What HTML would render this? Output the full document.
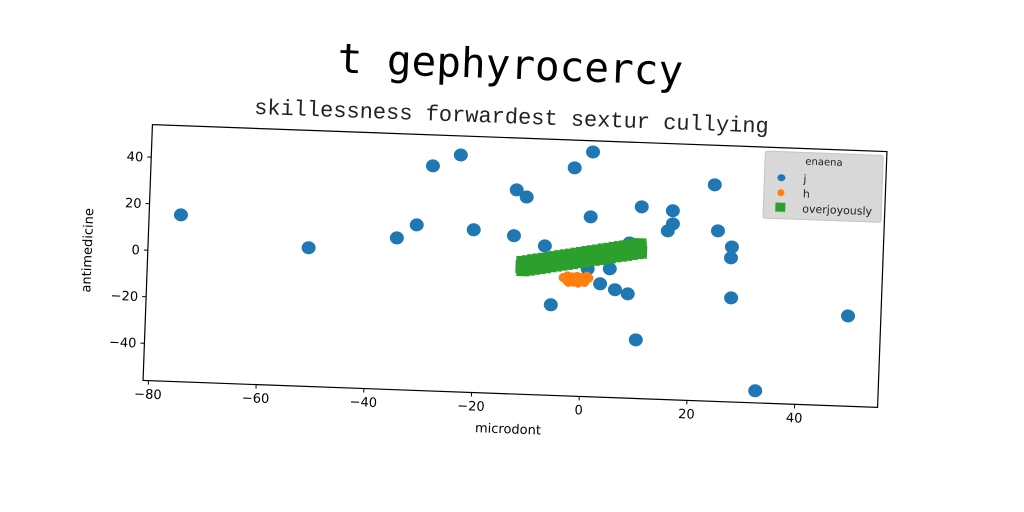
<!DOCTYPE html>
<html><head><meta charset="utf-8"><style>
html,body{margin:0;padding:0;background:#fff;}
svg{display:block;}
</style></head><body>
<svg id="chart" width="1024" height="512" viewBox="0 0 1024 512" xmlns="http://www.w3.org/2000/svg">
<g id="rot" transform="rotate(2.1 515 266)">
<text x="503" y="65" text-anchor="middle" dominant-baseline="central" font-family="DejaVu Sans Mono, monospace" font-size="41" fill="#000">t gephyrocercy</text>
<text x="506" y="118" text-anchor="middle" dominant-baseline="central" font-family="Liberation Mono, monospace" font-size="22" fill="#222">skillessness forwardest sextur cullying</text>
<g id="plot"></g>
<rect x="147.5" y="138" width="735" height="256" fill="none" stroke="#000" stroke-width="1.2"/>
<g id="xt"></g>
<g id="yt"></g>
<text x="514" y="430" text-anchor="middle" dominant-baseline="central" font-family="DejaVu Sans, sans-serif" font-size="13">microdont</text>
<text x="88" y="266" text-anchor="middle" dominant-baseline="central" font-family="DejaVu Sans, sans-serif" font-size="13" transform="rotate(-90 88 266)">antimedicine</text>
<g>
<rect x="761" y="142" width="118" height="67" fill="#d8d8d8" stroke="#c4c4c4" rx="2"/>
<text x="820" y="154" text-anchor="middle" font-family="DejaVu Sans, sans-serif" font-size="10" fill="#222">enaena</text>
<ellipse cx="778" cy="168" rx="4" ry="3.5" fill="#1f77b4"/>
<text x="800" y="172" font-family="DejaVu Sans, sans-serif" font-size="11" fill="#222">j</text>
<circle cx="778" cy="183" r="3.5" fill="#ff7f0e"/>
<text x="800" y="187" font-family="DejaVu Sans, sans-serif" font-size="11" fill="#222">h</text>
<rect x="773" y="193" width="10" height="9" fill="#2ca02c"/>
<text x="800" y="202" font-family="DejaVu Sans, sans-serif" font-size="11" fill="#222">overjoyously</text>
</g>
</g>
</svg>
<script>
const jX=[-75.1,-51.2,-34.9,-31.3,-28.7,-23.6,-20.7,-13.2,-13.0,-11.1,-7.4,-5.9,-2.4,0.9,0.9,3.1,4.8,5.9,8.3,8.3,10.1,10.3,15.3,16.2,16.1,23.7,24.6,27.3,27.2,27.5,32.6,49.3,0.7];
const jY=[15.7,3.6,9.2,15.1,40.7,45.8,13.9,12,31.7,28.8,8.1,-17.1,42.1,49.2,21.3,-7.3,-0.7,-9.6,-11.2,10.7,-30.8,26.4,16.5,19.6,25.2,37,17.3,10.6,5.9,-11.3,-50.8,-17.2,-1.1];
const hX=[-3.8,-3.2,-2.6,-2.0,-1.4,-0.8,-0.2,0.4,1.0,-3.0,-2.2,-1.2,-0.4,0.6,-1.8,-2.8,-1.0,0.2];
const hY=[-5.2,-6.3,-5.8,-6.8,-6.0,-6.5,-5.6,-6.2,-5.0,-4.4,-4.8,-4.5,-4.9,-4.2,-7.0,-7.2,-7.4,-7.0];
const gX=[-11.5,-11,-10.5,-10,-9.5,-9,-8.5,-8,-7.5,-7,-6.5,-6,-5.5,-5,-4.5,-4,-3.5,-3,-2.5,-2,-1.5,-1,-0.5,0,0.5,1,1.5,2,2.5,3,3.5,4,4.5,5,5.5,6,6.5,7,7.5,8,8.5,9,9.5,10,10.3,
-11.3,-10.3,-9.3,-8.3,-7.3,-6.3,-5.3,-4.3,-3.3,-2.3,-1.3,-0.3,0.7,1.7,2.7,3.7,4.7,5.7,6.7,7.7,8.7,9.7,10.4,
-11.4,-10.4,-9.4,-8.4,-7.4,-6.4,-5.4,-4.4,-3.4,-2.4,-1.4,-0.4,0.6,1.6,2.6,3.6,4.6,5.6,6.6,7.6,8.6,9.6,10.2];
const gY=[-1.2,-1.0,-0.7,-0.5,-0.3,0.0,0.2,0.4,0.6,0.9,1.1,1.3,1.5,1.8,2.0,2.2,2.4,2.7,2.9,3.1,3.3,3.6,3.8,4.0,4.2,4.5,4.7,4.9,5.1,5.4,5.6,5.8,6.0,6.3,6.5,6.7,6.9,7.2,7.4,7.6,7.8,8.1,8.3,8.5,8.6,
-2.5,-2.1,-1.6,-1.2,-0.8,-0.3,0.1,0.6,1.0,1.4,1.9,2.3,2.8,3.2,3.6,4.1,4.5,5.0,5.4,5.8,6.3,6.7,7.0,
0.6,1.0,1.5,1.9,2.3,2.8,3.2,3.7,4.1,4.5,5.0,5.4,5.9,6.3,6.7,7.2,7.6,8.1,8.5,8.9,9.4,9.8,10.1];
const xTicks=[-80,-60,-40,-20,0,20,40];
const yTicks=[-40,-20,0,20,40];
const NS='http://www.w3.org/2000/svg';
const X0=147.5,Y0=138,XMIN=-81,XMAX=55.4,YMIN=-56,YMAX=54,W=735,H=256;
function sx(v){return X0+(v-XMIN)/(XMAX-XMIN)*W;}
function sy(v){return Y0+(YMAX-v)/(YMAX-YMIN)*H;}
function mk(tag,attrs,parent){const e=document.createElementNS(NS,tag);for(const k in attrs)e.setAttribute(k,attrs[k]);parent.appendChild(e);return e;}
const plot=document.getElementById('plot');
for(let i=0;i<jX.length;i++){
  const e=mk('ellipse',{cx:sx(jX[i]),cy:sy(jY[i]),rx:7,ry:6.5,fill:'#1f77b4'},plot);
  
  
}
for(let i=0;i<hX.length;i++){
  const e=mk('circle',{cx:sx(hX[i]),cy:sy(hY[i]),r:4.5,fill:'#ff7f0e'},plot);
  
  
}
for(let i=0;i<gX.length;i++){
  const e=mk('rect',{x:sx(gX[i])-6.5,y:sy(gY[i])-6.5,width:13,height:13,fill:'#2ca02c'},plot);
  
  
}
const xt=document.getElementById('xt');
xTicks.forEach(t=>{
  const x=sx(t);
  const l=mk('line',{x1:x,x2:x,y1:Y0+H,y2:Y0+H+4,stroke:'#000'},xt);
  
  
  const tx=mk('text',{x:x,y:Y0+H+18,'text-anchor':'middle','font-family':'DejaVu Sans, sans-serif','font-size':13},xt);
  tx.textContent=(t<0?'\u2212'+(-t):''+t);
  
  
});
const yt=document.getElementById('yt');
yTicks.forEach(t=>{
  const y=sy(t);
  const l=mk('line',{x1:X0-4,x2:X0,y1:y,y2:y,stroke:'#000'},yt);
  
  
  const tx=mk('text',{x:X0-8,y:y+4.5,'text-anchor':'end','font-family':'DejaVu Sans, sans-serif','font-size':13},yt);
  tx.textContent=(t<0?'\u2212'+(-t):''+t);
  
  
});
</script>
</body></html>
